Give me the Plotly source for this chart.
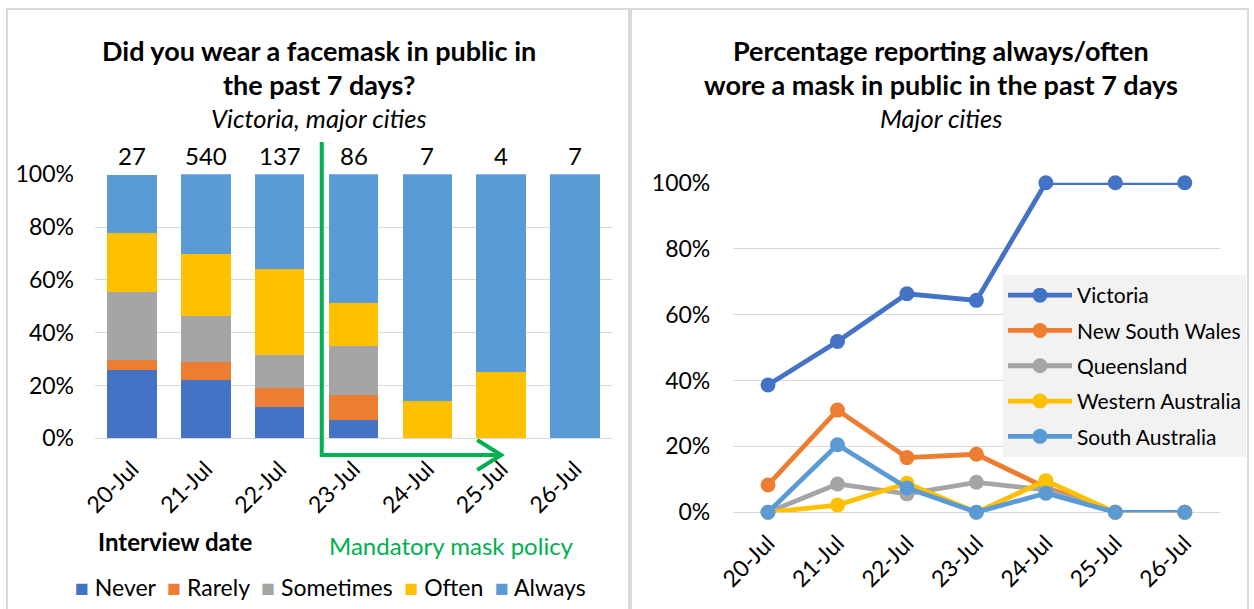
import plotly.graph_objects as go

W, H = 1254, 609
FONT = "Lato"

# ---------------- data ----------------
dates = ["20-Jul", "21-Jul", "22-Jul", "23-Jul", "24-Jul", "25-Jul", "26-Jul"]
sample_n = [27, 540, 137, 86, 7, 4, 7]

freq_names = ["Never", "Rarely", "Sometimes", "Often", "Always"]
freq_colors = ["#4472C4", "#ED7D31", "#A5A5A5", "#FFC000", "#5B9BD5"]
never = [25.9, 22.2, 11.7, 7.0, 0, 0, 0]
rarely = [3.7, 6.8, 7.3, 9.3, 0, 0, 0]
sometimes = [25.9, 17.3, 12.4, 18.6, 0, 0, 0]
often = [22.2, 23.5, 32.8, 16.3, 14.3, 25.0, 0]
always = [22.2, 30.2, 35.8, 48.8, 85.7, 75.0, 100.0]
freq_values = [never, rarely, sometimes, often, always]

states = ["Victoria", "New South Wales", "Queensland", "Western Australia", "South Australia"]
state_colors = ["#4472C4", "#ED7D31", "#A5A5A5", "#FFC000", "#5B9BD5"]
victoria = [38.6, 51.8, 66.3, 64.3, 100, 100, 100]
nsw = [8.3, 31.0, 16.6, 17.6, 7.5, 0, 0]
queensland = [0, 8.6, 5.6, 9.1, 6.8, 0, 0]
western_australia = [0, 2.2, 8.8, 0, 9.6, 0, 0]
south_australia = [0, 20.5, 7.4, 0, 5.8, 0, 0]
state_values = [victoria, nsw, queensland, western_australia, south_australia]


def px(x):
    return x / W


def py(y):
    return 1 - y / H


# plot-area geometry (pixels)
L_X0, L_X1, L_Y0, L_Y1 = 95, 612, 174.3, 438.3
R_X0, R_X1, R_Y0, R_Y1 = 733.3, 1219.5, 182.7, 512.3

fig = go.Figure()

for name, color, vals in zip(freq_names, freq_colors, freq_values):
    fig.add_trace(go.Bar(x=dates, y=vals, name=name, marker=dict(color=color, line=dict(width=0)),
                         xaxis="x", yaxis="y", showlegend=False))

for i, (name, color, vals) in enumerate(zip(states, state_colors, state_values)):
    fig.add_trace(go.Scatter(x=dates, y=vals, name=name, mode="lines+markers",
                             line=dict(color=color, width=4.8), marker=dict(color=color, size=15),
                             cliponaxis=False, xaxis="x2", yaxis="y2", legend="legend",
                             legendgroup=f"g{i}"))

grid = "#D9D9D9"
tickfont = dict(family=FONT, size=23, color="#000")
xtickfont = dict(family=FONT, size=23, color="#000")

fig.update_layout(
    width=W, height=H, margin=dict(l=0, r=0, t=0, b=0, autoexpand=False),
    paper_bgcolor="white", plot_bgcolor="white",
    barmode="stack", bargap=0.33,
    font=dict(family=FONT, color="#000"),
    xaxis=dict(domain=[px(L_X0), px(L_X1)], type="category", range=[-0.5, 6.5],
               tickangle=-45, tickfont=xtickfont, showgrid=False, showline=False, ticks="",
               anchor="y", automargin=False, ticklabelstandoff=12),
    yaxis=dict(domain=[py(L_Y1), py(L_Y0)], range=[0, 100], dtick=20, ticksuffix="%",
               tickfont=tickfont, gridcolor=grid, gridwidth=1.3, zeroline=True,
               zerolinecolor=grid, zerolinewidth=1.3, ticklabelstandoff=20, anchor="x",
               automargin=False),
    xaxis2=dict(domain=[px(R_X0), px(R_X1)], type="category", range=[-0.5, 6.5],
                tickangle=-45, tickfont=xtickfont, showgrid=False, showline=False, ticks="",
                anchor="y2", automargin=False, ticklabelstandoff=12),
    yaxis2=dict(domain=[py(R_Y1), py(R_Y0)], range=[0, 100], dtick=20, ticksuffix="%",
                tickfont=tickfont, gridcolor=grid, gridwidth=1.3, zeroline=True,
                zerolinecolor=grid, zerolinewidth=1.3, ticklabelstandoff=22, anchor="x2",
                automargin=False),
    legend=dict(x=px(1003), y=py(275), xanchor="left", yanchor="top", bgcolor="#F2F2F2",
                font=dict(family=FONT, size=21, color="#000"), itemwidth=64,
                tracegroupgap=5, traceorder="grouped", entrywidth=170, entrywidthmode="pixels"),
)

annotations = []
# titles
for cx, lines in [(319, ["Did you wear a facemask in public in", "the past 7 days?", "Victoria, major cities"]),
                  (941, ["Percentage reporting always/often", "wore a mask in public in the past 7 days", "Major cities"])]:
    for j, (txt, yy) in enumerate(zip(lines, [50, 84, 118])):
        if j < 2:
            t = f"<b>{txt}</b>"
            f = dict(family=FONT, size=27, color="#000")
        else:
            t = f"<i>{txt}</i>"
            f = dict(family=FONT, size=25.5, color="#000")
        annotations.append(dict(x=px(cx), y=py(yy), xref="paper", yref="paper", text=t,
                                showarrow=False, font=f, xanchor="center", yanchor="middle"))

# sample sizes above bars
for d, n in zip(dates, sample_n):
    annotations.append(dict(x=d, y=100, xref="x", yref="y", text=str(n), showarrow=False,
                            yshift=19, xanchor="center", yanchor="middle",
                            font=dict(family=FONT, size=24, color="#000")))

annotations.append(dict(x=px(175), y=py(541), xref="paper", yref="paper", text="<b>Interview date</b>",
                        showarrow=False, xanchor="center", yanchor="middle",
                        font=dict(family=FONT, size=24, color="#000")))
annotations.append(dict(x=px(452), y=py(545), xref="paper", yref="paper", text="Mandatory mask policy",
                        showarrow=False, xanchor="center", yanchor="middle",
                        font=dict(family=FONT, size=24, color="#00B050")))

# manual legend for bar chart
leg = "  ".join(f"<span style='color:{c}'>■</span> {n}" for n, c in zip(freq_names, freq_colors))
annotations.append(dict(x=px(330), y=py(587), xref="paper", yref="paper", text=leg,
                        showarrow=False, xanchor="center", yanchor="middle",
                        font=dict(family=FONT, size=23, color="#000")))

fig.update_layout(annotations=annotations)

# green policy arrow (relative to left axis geometry)
step = (L_X1 - L_X0) / 7
ax_x = lambda c: L_X0 + (c + 0.5) * step
vx = ax_x(2.57)
tip = ax_x(5.0)
hy = 455
green = "#00B050"
shapes = [
    dict(type="line", xref="paper", yref="paper", x0=px(vx), x1=px(vx), y0=py(142), y1=py(hy + 2),
         line=dict(color=green, width=4)),
    dict(type="line", xref="paper", yref="paper", x0=px(vx), x1=px(tip), y0=py(hy), y1=py(hy),
         line=dict(color=green, width=4)),
    dict(type="path", xref="paper", yref="paper",
         path=f"M {px(tip-24)},{py(hy-15)} L {px(tip)},{py(hy)} L {px(tip-24)},{py(hy+15)}",
         line=dict(color=green, width=4)),
    # panel frames
    dict(type="rect", xref="paper", yref="paper", x0=px(7), x1=px(629), y0=py(9), y1=py(620),
         line=dict(color="#D9D9D9", width=2)),
    dict(type="rect", xref="paper", yref="paper", x0=px(631), x1=px(1248), y0=py(9), y1=py(620),
         line=dict(color="#D9D9D9", width=2)),
]
fig.update_layout(shapes=shapes)

fig.write_html("out.html", config={"displayModeBar": False},
               post_script="document.body.style.margin='0';document.body.style.overflow='hidden';")
